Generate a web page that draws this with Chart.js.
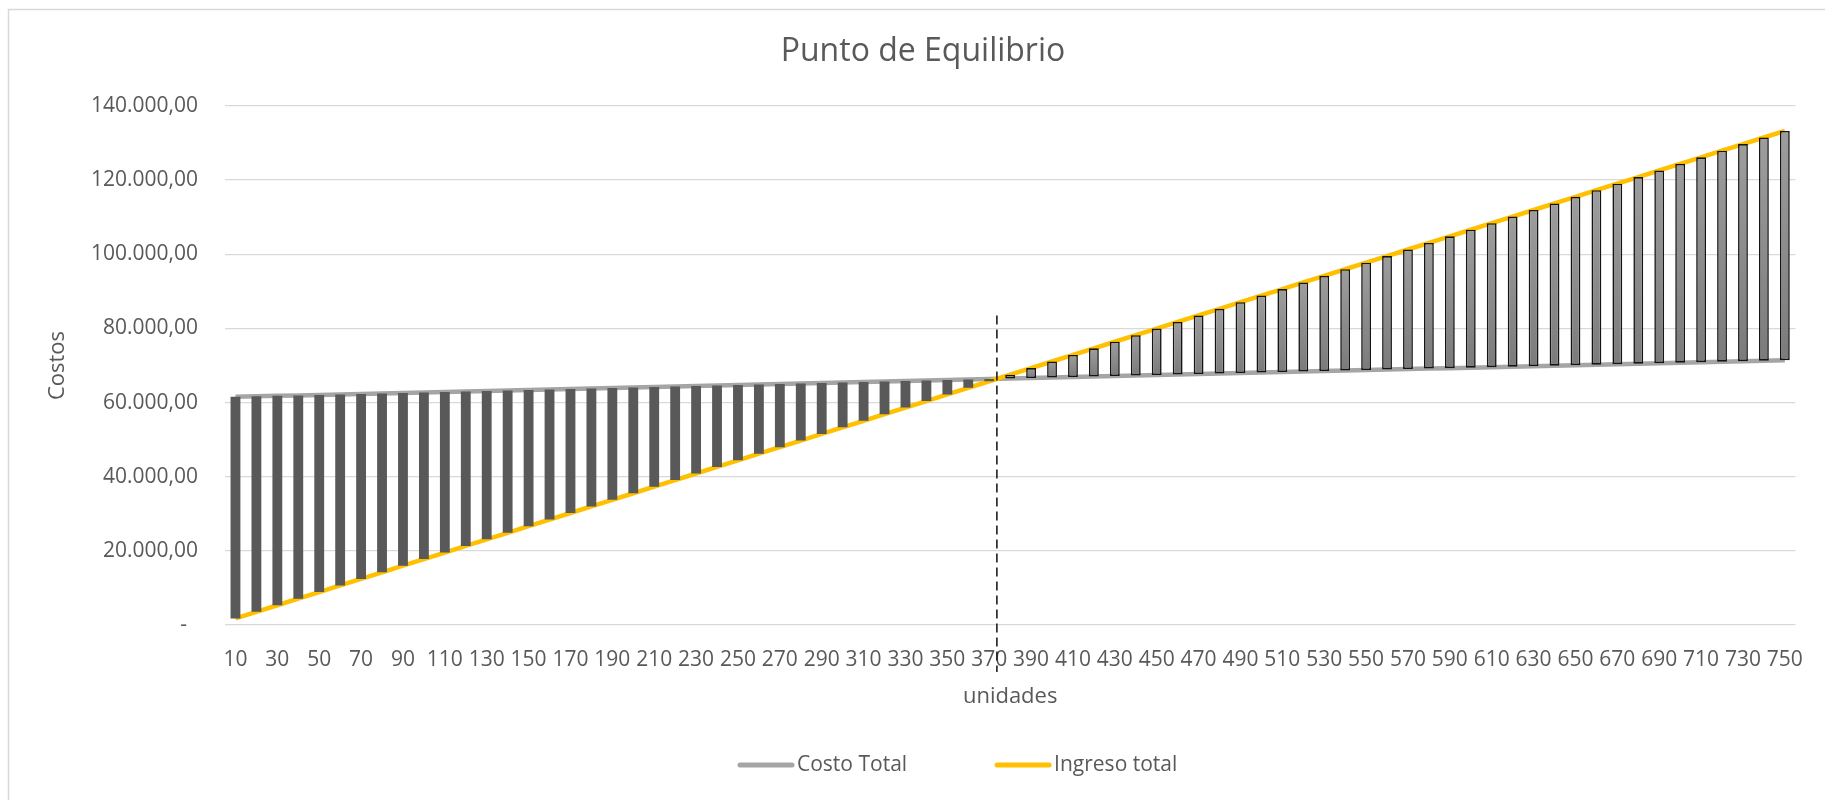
<!DOCTYPE html>
<html>
<head>
<meta charset="utf-8">
<title>Punto de Equilibrio</title>
<script src="https://cdn.jsdelivr.net/npm/chart.js@4.4.1/dist/chart.umd.min.js"></script>
<style>
  html, body { margin: 0; padding: 0; background: #ffffff; }
  #wrap { width: 1825px; height: 800px; position: relative; }
  canvas { display: block; }
</style>
</head>
<body>
<div id="wrap"><canvas id="chart" width="1825" height="800"></canvas></div>
<script>
// Unidades producidas / vendidas
const unidades = [
  10, 20, 30, 40, 50, 60, 70, 80, 90, 100,
  110, 120, 130, 140, 150, 160, 170, 180, 190, 200,
  210, 220, 230, 240, 250, 260, 270, 280, 290, 300,
  310, 320, 330, 340, 350, 360, 370, 380, 390, 400,
  410, 420, 430, 440, 450, 460, 470, 480, 490, 500,
  510, 520, 530, 540, 550, 560, 570, 580, 590, 600,
  610, 620, 630, 640, 650, 660, 670, 680, 690, 700,
  710, 720, 730, 740, 750
];

// Costo total (fijo + variable)
const costoTotal = [
  61540, 61673, 61807, 61941, 62074, 62208, 62342, 62475, 62609, 62743,
  62876, 63010, 63143, 63277, 63411, 63544, 63678, 63812, 63945, 64079,
  64213, 64346, 64480, 64614, 64747, 64881, 65015, 65148, 65282, 65416,
  65549, 65683, 65816, 65950, 66084, 66217, 66351, 66485, 66618, 66752,
  66886, 67019, 67153, 67287, 67420, 67554, 67688, 67821, 67955, 68089,
  68222, 68356, 68489, 68623, 68757, 68890, 69024, 69158, 69291, 69425,
  69559, 69692, 69826, 69960, 70093, 70227, 70361, 70494, 70628, 70762,
  70895, 71029, 71162, 71296, 71430
];

// Ingreso total (precio x unidades)
const ingresoTotal = [
  1777, 3554, 5331, 7108, 8885, 10662, 12439, 14216, 15993, 17770,
  19547, 21324, 23101, 24878, 26655, 28432, 30209, 31986, 33763, 35540,
  37317, 39094, 40871, 42648, 44425, 46202, 47979, 49756, 51533, 53310,
  55087, 56864, 58641, 60418, 62195, 63972, 65749, 67526, 69303, 71080,
  72857, 74634, 76411, 78188, 79965, 81742, 83519, 85296, 87073, 88850,
  90627, 92404, 94181, 95958, 97735, 99512, 101289, 103066, 104843, 106620,
  108397, 110174, 111951, 113728, 115505, 117282, 119059, 120836, 122613, 124390,
  126167, 127944, 129721, 131498, 133275
];

// Eje de costos
const yMin = 0;
const yMax = 140000;
const yStep = 20000;

// Extremos de la línea de equilibrio (en valores del eje Y)
const equilibrioArriba = 83500;
const equilibrioAbajo = -12700;

const FONT = '"Open Sans", "DejaVu Sans", sans-serif';
const TEXT = '#595959';

function formatoCostos(v) {
  if (v === 0) return '-  ';
  const entero = Math.round(v).toString().replace(/\B(?=(\d{3})+(?!\d))/g, '.');
  return entero + ',00';
}

// Barras ascendentes / descendentes entre las dos series
const barras = unidades.map((u, i) => [costoTotal[i], ingresoTotal[i]]);

function colorBarra(ctx) {
  const i = ctx.dataIndex;
  if (ctx.type !== 'data') return '#595959';
  if (ingresoTotal[i] < costoTotal[i]) return '#595959';
  const chart = ctx.chart;
  const y = chart.scales && chart.scales.y;
  if (!y || !chart.chartArea) return '#8c8c8c';
  const top = y.getPixelForValue(ingresoTotal[i]);
  const bot = y.getPixelForValue(costoTotal[i]);
  const g = chart.ctx.createLinearGradient(0, top, 0, bot);
  g.addColorStop(0, '#9d9d9d');
  g.addColorStop(1, '#7b7b7b');
  return g;
}

const marco = {
  id: 'marco',
  beforeDraw(chart) {
    const c = chart.ctx;
    c.save();
    c.fillStyle = '#ffffff';
    c.fillRect(0, 0, chart.width, chart.height);
    c.strokeStyle = '#d9d9d9';
    c.lineWidth = 1.5;
    c.strokeRect(8.5, 9.5, chart.width + 10, chart.height + 10);
    c.restore();
  }
};

const equilibrio = {
  id: 'equilibrio',
  afterDatasetsDraw(chart) {
    const x = chart.scales.x, y = chart.scales.y;
    let k = -1;
    for (let i = 0; i < unidades.length - 1; i++) {
      const d0 = ingresoTotal[i] - costoTotal[i];
      const d1 = ingresoTotal[i + 1] - costoTotal[i + 1];
      if (d0 <= 0 && d1 > 0) { k = i + (-d0) / (d1 - d0); break; }
    }
    if (k < 0) return;
    const i0 = Math.floor(k);
    const px = x.getPixelForValue(i0) + (x.getPixelForValue(i0 + 1) - x.getPixelForValue(i0)) * (k - i0);
    const c = chart.ctx;
    c.save();
    c.strokeStyle = '#1f1f1f';
    c.lineWidth = 1.6;
    c.setLineDash([9, 5]);
    c.beginPath();
    c.moveTo(px, y.getPixelForValue(equilibrioArriba));
    c.lineTo(px, y.getPixelForValue(equilibrioAbajo));
    c.stroke();
    c.restore();
  }
};

const titulo = {
  id: 'titulo',
  afterDraw(chart) {
    const c = chart.ctx;
    c.save();
    c.fillStyle = TEXT;
    c.font = '32px ' + FONT;
    c.textAlign = 'center';
    c.textBaseline = 'middle';
    c.fillText('Punto de Equilibrio', 923, 52);
    c.restore();
  }
};

const leyenda = {
  id: 'leyenda',
  afterDraw(chart) {
    const c = chart.ctx;
    const items = chart.data.datasets.filter(d => d.enLeyenda).sort((a, b) => a.posLeyenda - b.posLeyenda);
    c.save();
    c.font = '21px ' + FONT;
    c.textBaseline = 'middle';
    c.textAlign = 'left';
    const cy = 765;
    const linea = 56, hueco = 3, sep = 88;
    let x = 738;
    items.forEach(d => {
      c.strokeStyle = d.borderColor;
      c.lineWidth = 5;
      c.lineCap = 'round';
      c.beginPath();
      c.moveTo(x + 2, cy);
      c.lineTo(x + linea - 2, cy);
      c.stroke();
      c.fillStyle = TEXT;
      c.fillText(d.label, x + linea + hueco, cy);
      x += linea + hueco + c.measureText(d.label).width + sep;
    });
    c.restore();
  }
};

new Chart(document.getElementById('chart'), {
  data: {
    labels: unidades.map(String),
    datasets: [
      {
        type: 'bar',
        label: 'Barras',
        data: barras,
        order: 0,
        backgroundColor: colorBarra,
        borderColor: '#141414',
        borderWidth: (ctx) => (ctx.type === 'data' && ingresoTotal[ctx.dataIndex] >= costoTotal[ctx.dataIndex]) ? 1.6 : 0,
        borderSkipped: false,
        categoryPercentage: 1,
        barPercentage: 0.47
      },
      {
        type: 'line',
        label: 'Ingreso total',
        data: ingresoTotal,
        order: 1,
        borderColor: '#ffc000',
        backgroundColor: '#ffc000',
        borderWidth: 4.5,
        pointRadius: 0,
        tension: 0,
        enLeyenda: true,
        posLeyenda: 2
      },
      {
        type: 'line',
        label: 'Costo Total',
        data: costoTotal,
        order: 2,
        borderColor: '#a5a5a5',
        backgroundColor: '#a5a5a5',
        borderWidth: 4.5,
        pointRadius: 0,
        tension: 0,
        enLeyenda: true,
        posLeyenda: 1
      }
    ]
  },
  options: {
    responsive: false,
    animation: false,
    layout: { padding: { left: 0, right: 22, top: 106, bottom: 0 } },
    plugins: {
      legend: { display: false },
      title: { display: false },
      tooltip: { enabled: false }
    },
    scales: {
      x: {
        type: 'category',
        offset: true,
        grid: { display: false, drawTicks: false },
        border: { display: false },
        ticks: {
          autoSkip: false,
          maxRotation: 0,
          minRotation: 0,
          padding: 22,
          color: TEXT,
          font: { family: FONT, size: 21 },
          callback: function (val, idx) { return idx % 2 === 0 ? this.getLabelForValue(val) : ''; }
        },
        title: {
          display: true,
          text: 'unidades',
          color: TEXT,
          font: { family: FONT, size: 22 },
          padding: { top: 0, bottom: 90 }
        },
        afterFit(scale) { scale.height = 175; }
      },
      y: {
        min: yMin,
        max: yMax,
        grid: { color: '#d9d9d9', lineWidth: 1.3, drawTicks: false },
        border: { display: false },
        ticks: {
          stepSize: yStep,
          padding: 27,
          color: TEXT,
          font: { family: FONT, size: 21 },
          callback: (v) => formatoCostos(v)
        },
        title: {
          display: true,
          text: 'Costos',
          color: TEXT,
          font: { family: FONT, size: 22 },
          padding: { top: 45, bottom: 0 }
        },
        afterFit(scale) { scale.width = 225; }
      }
    }
  },
  plugins: [marco, equilibrio, titulo, leyenda]
});
</script>
</body>
</html>
